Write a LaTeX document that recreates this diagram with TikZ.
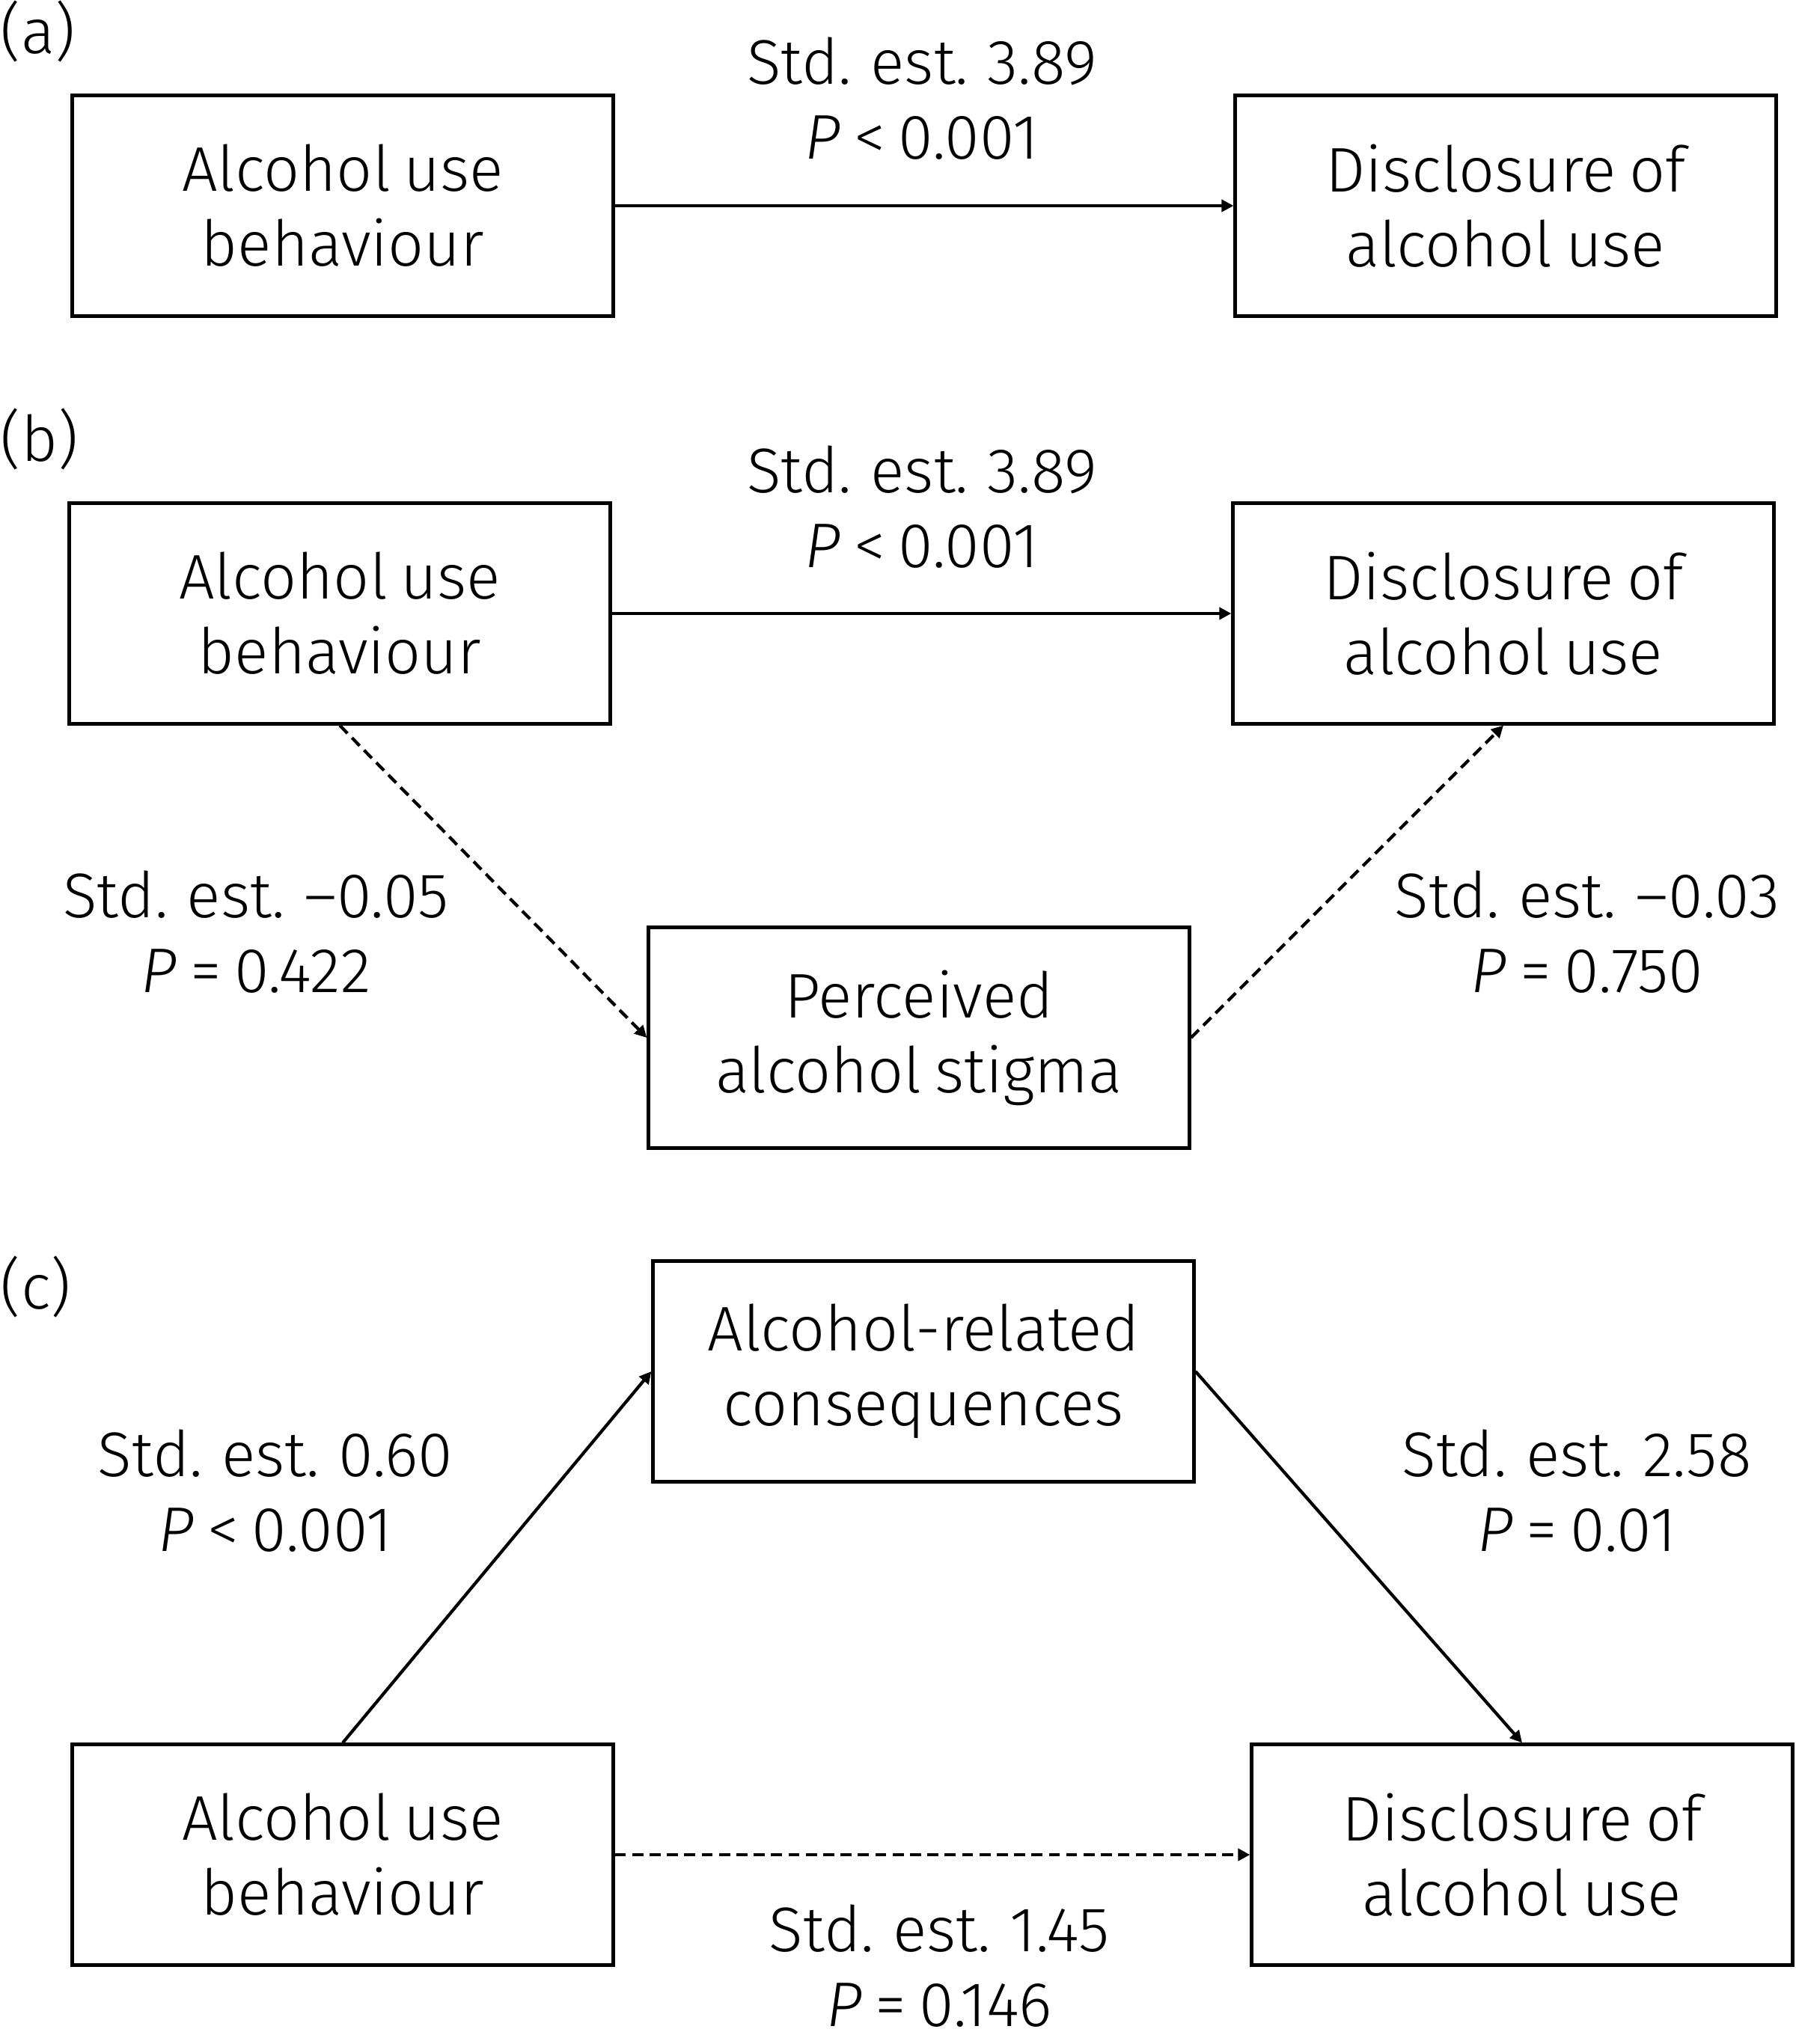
\documentclass[tikz,border=0pt]{standalone}
\usepackage{fontspec}
\setmainfont{Fira Sans Light}[WordSpace=0.75]
\usepackage{tikz}
\usetikzlibrary{arrows.meta,positioning}

\begin{document}
\begin{tikzpicture}[
    every node/.style={font=\fontsize{24}{28.5}\selectfont, align=center},
    box/.style={rectangle, draw=black, line width=1.2pt, minimum height=2.95cm, minimum width=7.23cm, inner sep=0pt},
    arrow/.style={-{Triangle[length=1.6mm, width=1.6mm]}, line width=1.2pt},
    dasharrow/.style={arrow, dash pattern=on 4.2pt off 2.4pt},
    est/.style={inner sep=0pt}
    ]
    \useasboundingbox (0,0) rectangle (24,-27.32);
    % panel (a)
    \node[anchor=west, inner sep=0pt] (la) at (0,-0.42) {(a)};
    \node[box] (A1) at (4.58,-2.75) {Alcohol use\\behaviour};
    \node[box] (A2) at (20.12,-2.75) {Disclosure of\\alcohol use};
    \node[est] (ea) at (12.32,-1.32) {Std. est. 3.89\\\textit{P} < 0.001};
    \draw[arrow] (A1) -- (A2);
    % panel (b)
    \node[anchor=west, inner sep=0pt] (lb) at (0,-5.87) {(b)};
    \node[box] (B1) at (4.54,-8.20) {Alcohol use\\behaviour};
    \node[box] (B2) at (20.09,-8.20) {Disclosure of\\alcohol use};
    \node[box] (B3) at (12.28,-13.87) {Perceived\\alcohol stigma};
    \node[est] (eb) at (12.32,-6.78) {Std. est. 3.89\\\textit{P} < 0.001};
    \node[est] (ebl) at (3.42,-12.46) {Std. est. –0.05\\\textit{P} = 0.422};
    \node[est] (ebr) at (21.21,-12.46) {Std. est. –0.03\\\textit{P} = 0.750};
    \draw[arrow] (B1) -- (B2);
    \draw[dasharrow] (B1.south) -- (B3.west);
    \draw[dasharrow] (B3.east) -- (B2.south);
    % panel (c)
    \node[anchor=west, inner sep=0pt] (lc) at (0,-17.2) {(c)};
    \node[box] (C3) at (12.34,-18.33) {Alcohol-related\\consequences};
    \node[box] (C1) at (4.58,-24.79) {Alcohol use\\behaviour};
    \node[box] (C2) at (20.34,-24.79) {Disclosure of\\alcohol use};
    \node[est] (ecl) at (3.68,-19.93) {Std. est. 0.60\\\textit{P} < 0.001};
    \node[est] (ecr) at (21.07,-19.93) {Std. est. 2.58\\\textit{P} = 0.01};
    \node[est] (ecb) at (12.55,-26.28) {Std. est. 1.45\\\textit{P} = 0.146};
    \draw[arrow] (C1.north) -- (C3.west);
    \draw[arrow] (C3.east) -- (C2.north);
    \draw[dasharrow] (C1) -- (C2);
\end{tikzpicture}
\end{document}
